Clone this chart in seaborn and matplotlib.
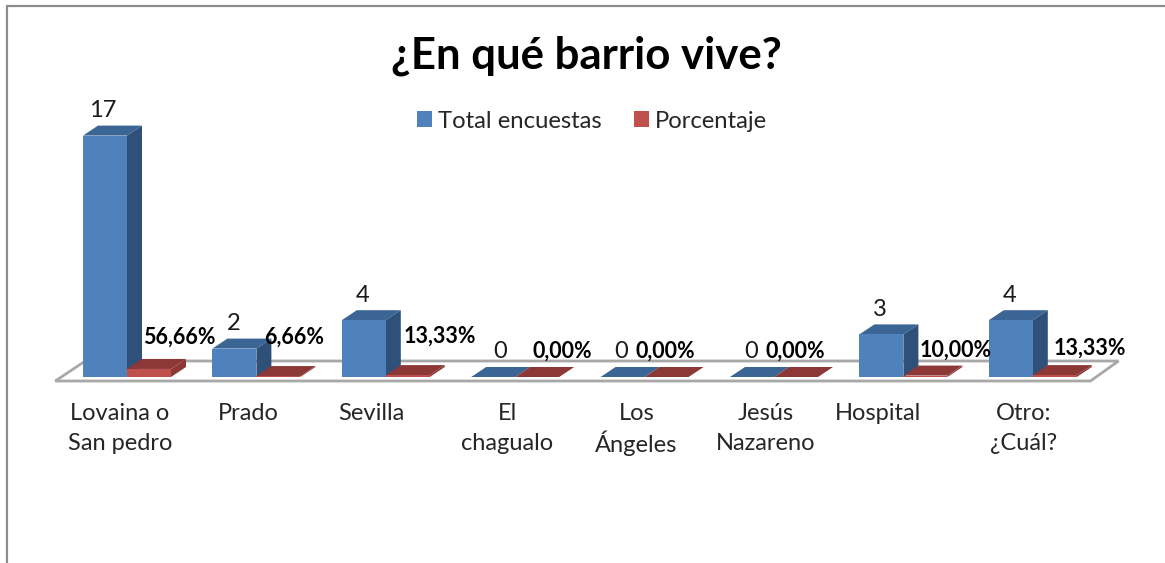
import matplotlib
matplotlib.use("Agg")
import matplotlib.pyplot as plt
import pandas as pd
import seaborn as sns
from matplotlib.lines import Line2D
from matplotlib.patches import Polygon
from matplotlib.transforms import IdentityTransform, ScaledTranslation

barrios = ['Lovaina o\nSan pedro', 'Prado', 'Sevilla', 'El\nchagualo',
           'Los\nÁngeles', 'Jesús\nNazareno', 'Hospital', 'Otro:\n¿Cuál?']
total = [17, 2, 4, 0, 0, 0, 3, 4]
porcentaje = [0.5666, 0.0666, 0.1333, 0, 0, 0, 0.10, 0.1333]
porcentaje_txt = ['56,66%', '6,66%', '13,33%', '0,00%', '0,00%', '0,00%', '10,00%', '13,33%']

# label nudges in pixels, the original chart has them hand placed
pct_dx = [30, 16, 32, 25, -1, -1, 30, 35]
pct_dy = [40, 40, 41, 26, 26, 26, 27, 29]
tot_dx = [-2, -1, -1, 7, -1, -1, -2, -1]
tick_dx = [-7, -8, -14, -8, -8, -8, -25, -9]

W, H = 1165, 563
DX, DY = 15, 10  # depth of the fake 3d

sns.set_theme(style='white')
plt.rcParams['font.family'] = ['Lato', 'DejaVu Sans']

df = pd.DataFrame({
    'barrio': barrios * 2,
    'valor': total + porcentaje,
    'serie': ['Total encuestas'] * 8 + ['Porcentaje'] * 8,
})

fig = plt.figure(figsize=(W / 100, H / 100), dpi=100, facecolor='white')
ax = fig.add_axes([62.3 / W, (H - 377) / H, (1097.5 - 62.3) / W, 277 / H])
ax.patch.set_alpha(0)

sns.barplot(data=df, x='barrio', y='valor', hue='serie', ax=ax, width=0.68, gap=0,
            palette=['#4f81bd', '#c0504d'], saturation=1, errorbar=None, zorder=3,
            linewidth=0)
ax.set_xlim(-0.5, 7.5)
ax.set_ylim(0, 277 / 14.2)
ax.set_xlabel('')
ax.set_ylabel('')
ax.set_yticks([])
sns.despine(ax=ax, left=True, bottom=True)
fig.canvas.draw()


def px(x, y):
    return ax.transData.transform((x, y))


def poly(points, color, z):
    ax.add_patch(Polygon(points, closed=True, facecolor=color, edgecolor='none',
                         transform=IdentityTransform(), zorder=z, clip_on=False))


# floor of the chart
x0, y0 = px(-0.5, 0)
x1, _ = px(7.5, 0)
floor = [(x0 - 7, y0 - 4), (x0 + 23, y0 + 16), (x1 + 21, y0 + 16), (x1 - 7, y0 - 4)]
ax.add_patch(Polygon(floor, closed=True, facecolor='white', edgecolor='#a8a8a8', linewidth=2,
                     transform=IdentityTransform(), zorder=1, clip_on=False))

shades = [('#3b6595', '#2f5079', 3), ('#8c3836', '#8c3836', 4)]
for cont, (top_col, side_col, z) in zip(ax.containers, shades):
    for bar in cont:
        xa, ya = px(bar.get_x(), 0)
        xb, yb = px(bar.get_x() + bar.get_width(), bar.get_height())
        poly([(xa, yb), (xa + DX, yb + DY), (xb + DX, yb + DY), (xb, yb)], top_col, z)
        if yb > ya:
            poly([(xb, ya), (xb + DX, ya + DY), (xb + DX, yb + DY), (xb, yb)], side_col, z)
        bar.set_edgecolor('none')
        bar.set_zorder(z + 0.5)

# data labels
for i, bar in enumerate(ax.containers[0]):
    ax.annotate(str(total[i]), (bar.get_x() + bar.get_width() / 2, total[i]),
                xytext=(tot_dx[i] * 0.72, 25 * 0.72), textcoords='offset points',
                ha='center', va='center', fontsize=17, color='#1a1a1a', zorder=7)
for i, bar in enumerate(ax.containers[1]):
    ax.annotate(porcentaje_txt[i], (bar.get_x() + bar.get_width() / 2, 0),
                xytext=(pct_dx[i] * 0.72, pct_dy[i] * 0.72), textcoords='offset points',
                ha='center', va='center', fontsize=15.5, fontweight='bold', color='black', zorder=7)

# axis labels
ax.tick_params(axis='x', length=0, pad=0)
ax.set_xticks(range(len(barrios)))
ax.set_xticklabels(barrios, fontsize=17, color='#262626', linespacing=1.5, va='top')
for lab, dx in zip(ax.get_xticklabels(), tick_dx):
    lab.set_transform(lab.get_transform() + ScaledTranslation(dx / 100, -26 / 100, fig.dpi_scale_trans))
ax.get_xticklabels()[4].set_linespacing(1.3)  # the accent on the A pushes that line down

fig.text(586 / W, (H - 56) / H, '¿En qué barrio vive?', ha='center', va='center',
         fontsize=31.5, fontweight='bold', color='black')

leg = ax.legend(loc='center', bbox_to_anchor=(592 / W, (H - 121) / H), bbox_transform=fig.transFigure,
                ncol=2, frameon=False, fontsize=17.2, handlelength=0.63, handleheight=0.63,
                handletextpad=0.25, columnspacing=1.34, title=None)
for t in leg.get_texts():
    t.set_color('#262626')

# chart frame, only the top and left sides are inside the crop
frame = dict(color='#8c8c8c', linewidth=1.6, transform=fig.transFigure)
fig.add_artist(Line2D([7 / W, 1], [(H - 6) / H, (H - 6) / H], **frame))
fig.add_artist(Line2D([7 / W, 7 / W], [0, (H - 6) / H], **frame))

fig.savefig('out.png', dpi=100, facecolor='white')
